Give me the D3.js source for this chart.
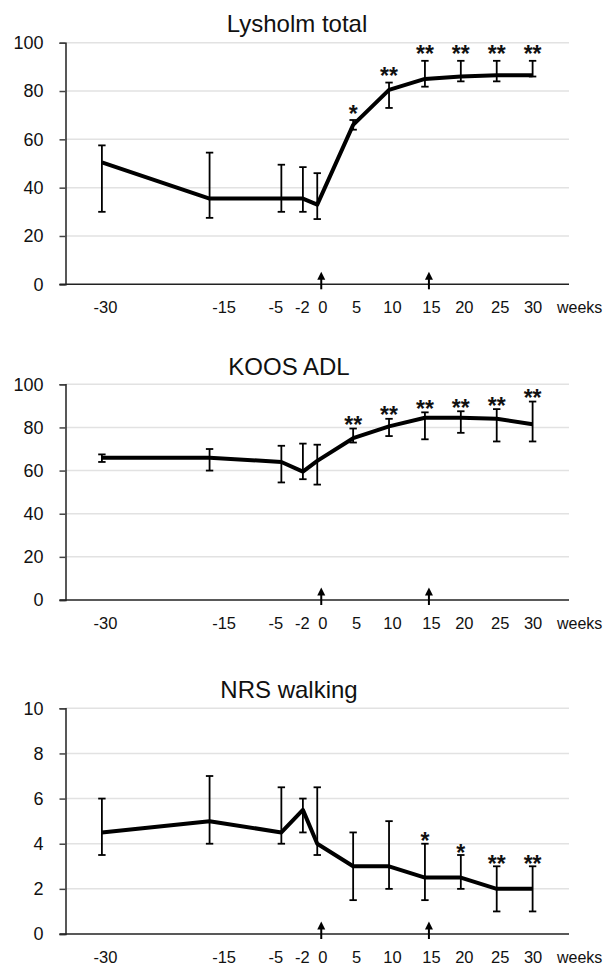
<!DOCTYPE html>
<html>
<head>
<meta charset="utf-8">
<script src="https://cdn.jsdelivr.net/npm/d3@7.9.0/dist/d3.min.js"></script>
<style>
  html, body { margin: 0; padding: 0; background: #fff; }
  svg { display: block; font-family: "Liberation Sans", Arial, sans-serif; }
</style>
</head>
<body>
<svg id="chart" width="611" height="965"></svg>
<script>
// time points (weeks) shared by the three panels
const weeks = [-30, -15, -5, -2, 0, 5, 10, 15, 20, 25, 30];
const arrowWeeks = [0, 15];

// Lysholm total
const lysholmMean = [50.5, 35.5, 35.5, 35.5, 33, 66, 80.5, 85, 86, 86.5, 86.5];
const lysholmHi = [57.5, 54.5, 49.5, 48.5, 46, 68, 83.5, 92.5, 92.5, 92.5, 92.5];
const lysholmLo = [30, 27.5, 30, 30, 27, 64, 73, 81.8, 84, 84, 86];
const lysholmStars = ['', '', '', '', '', '*', '**', '**', '**', '**', '**'];

// KOOS ADL
const koosMean = [66, 66, 64, 59.5, 64.5, 75, 80.5, 84.5, 84.5, 84, 81.5];
const koosHi = [67.5, 70, 71.5, 72.5, 72, 79.5, 84, 87, 87.5, 88.5, 92];
const koosLo = [64, 60, 54.5, 56, 53.5, 73, 76, 74.5, 77.5, 73.5, 73.5];
const koosStars = ['', '', '', '', '', '**', '**', '**', '**', '**', '**'];

// NRS walking
const nrsMean = [4.5, 5, 4.5, 5.5, 4, 3, 3, 2.5, 2.5, 2, 2];
const nrsHi = [6, 7, 6.5, 6, 6.5, 4.5, 5, 4, 3.5, 3, 3];
const nrsLo = [3.5, 4, 4, 4.5, 3.5, 1.5, 2, 1.5, 2, 1, 1];
const nrsStars = ['', '', '', '', '', '', '', '*', '*', '**', '**'];

const panels = [
  { title: 'Lysholm total', mean: lysholmMean, hi: lysholmHi, lo: lysholmLo, stars: lysholmStars,
    max: 100, step: 20, top: 42.7, bottom: 284.3, titleX: 297, titleY: 31.5, starGap: 12 },
  { title: 'KOOS ADL', mean: koosMean, hi: koosHi, lo: koosLo, stars: koosStars,
    max: 100, step: 20, top: 384.3, bottom: 600, titleX: 289, titleY: 375, starGap: 9 },
  { title: 'NRS walking', mean: nrsMean, hi: nrsHi, lo: nrsLo, stars: nrsStars,
    max: 10, step: 2, top: 708.3, bottom: 934, titleX: 289, titleY: 698, starGap: 8 }
];

// the week labels in the original were placed by hand, a little off their points
const labelNudge = { '-15': 11, '-5': -9, '-2': -4, '0': 2, '15': 3, '30': -3 };

const svg = d3.select('#chart');
const left = 65.5, right = 569;

const x = d3.scaleLinear().domain([-35, 35]).range([66, 568.5]);

panels.forEach((p) => {
  const g = svg.append('g');
  const y = d3.scaleLinear().domain([0, p.max]).range([p.bottom, p.top]);
  const yTicks = d3.range(0, p.max + p.step / 2, p.step);

  // gridlines
  g.selectAll('.grid')
    .data(yTicks.filter((t) => t > 0))
    .join('line')
    .attr('x1', left).attr('x2', right)
    .attr('y1', (d) => y(d)).attr('y2', (d) => y(d))
    .attr('stroke', '#e2e2e2')
    .attr('stroke-width', 1.5);

  // y axis
  const yAxis = g.append('g')
    .attr('transform', `translate(${left},0)`)
    .call(d3.axisLeft(y).tickValues(yTicks).tickSize(6).tickPadding(16));
  yAxis.select('.domain').attr('stroke', '#222').attr('stroke-width', 1.5);
  yAxis.selectAll('.tick line').attr('stroke', '#444').attr('stroke-width', 1.5);
  yAxis.selectAll('text')
    .attr('font-size', 18)
    .attr('fill', '#111')
    .attr('font-family', '"Liberation Sans", Arial, sans-serif');

  // x axis (plain hyphen for negatives)
  const xAxis = g.append('g')
    .attr('transform', `translate(3,${p.bottom})`)
    .call(d3.axisBottom(x).tickValues(weeks).tickFormat((d) => String(d)).tickSize(0).tickPadding(17));
  xAxis.select('.domain').remove();
  xAxis.selectAll('text')
    .attr('dx', (d) => labelNudge[String(d)] || 0)
    .attr('font-size', 16.5)
    .attr('fill', '#111')
    .attr('font-family', '"Liberation Sans", Arial, sans-serif');
  g.append('line')
    .attr('x1', left - 6).attr('x2', right)
    .attr('y1', p.bottom).attr('y2', p.bottom)
    .attr('stroke', '#222')
    .attr('stroke-width', 1.5);

  g.append('text')
    .attr('x', 557)
    .attr('y', p.bottom + 29)
    .attr('font-size', 16)
    .attr('fill', '#111')
    .text('weeks');

  // title
  g.append('text')
    .attr('x', p.titleX)
    .attr('y', p.titleY)
    .attr('text-anchor', 'middle')
    .attr('font-size', 24)
    .attr('fill', '#111')
    .text(p.title);

  const rows = weeks.map((w, i) => ({ w, m: p.mean[i], hi: p.hi[i], lo: p.lo[i], s: p.stars[i] }));

  // error bars
  const bars = g.selectAll('.err').data(rows).join('g');
  bars.append('line')
    .attr('x1', (d) => x(d.w)).attr('x2', (d) => x(d.w))
    .attr('y1', (d) => y(d.hi)).attr('y2', (d) => y(d.lo))
    .attr('stroke', '#000').attr('stroke-width', 1.8);
  ['hi', 'lo'].forEach((k) => {
    bars.append('line')
      .attr('x1', (d) => x(d.w) - 3.7).attr('x2', (d) => x(d.w) + 3.7)
      .attr('y1', (d) => y(d[k])).attr('y2', (d) => y(d[k]))
      .attr('stroke', '#000').attr('stroke-width', 1.8);
  });

  // mean line
  g.append('path')
    .datum(rows)
    .attr('d', d3.line().x((d) => x(d.w)).y((d) => y(d.m)))
    .attr('fill', 'none')
    .attr('stroke', '#000')
    .attr('stroke-width', 4)
    .attr('stroke-linejoin', 'round');

  // significance stars
  g.selectAll('.star')
    .data(rows.filter((d) => d.s))
    .join('text')
    .attr('x', (d) => x(d.w))
    .attr('y', (d) => y(d.hi) - p.starGap + 13.5)
    .attr('text-anchor', 'middle')
    .attr('font-size', 23)
    .attr('font-weight', 'bold')
    .attr('fill', '#111')
    .text((d) => d.s);

  // intervention arrows
  arrowWeeks.forEach((w) => {
    const ax = x(w) + 4;
    g.append('line')
      .attr('x1', ax).attr('x2', ax)
      .attr('y1', p.bottom - 6).attr('y2', p.bottom + 5)
      .attr('stroke', '#000').attr('stroke-width', 2);
    g.append('path')
      .attr('d', `M${ax},${p.bottom - 12.5}L${ax - 4},${p.bottom - 4.5}L${ax + 4},${p.bottom - 4.5}Z`)
      .attr('fill', '#000');
  });
});
</script>
</body>
</html>
